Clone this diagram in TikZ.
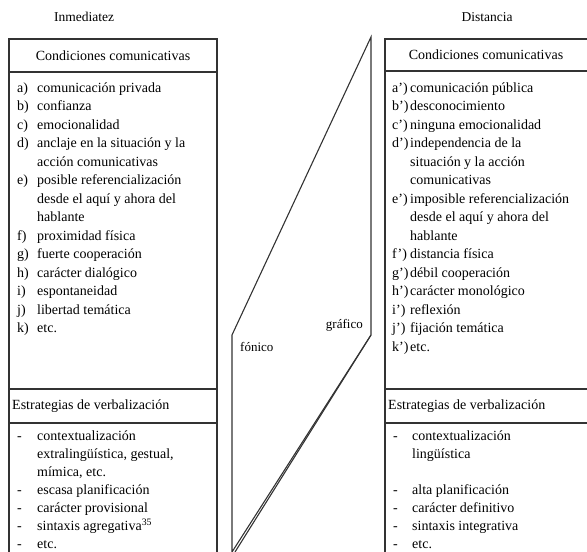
\documentclass[tikz,border=0pt]{standalone}
\usepackage{fontspec}
\setmainfont{Liberation Serif}
\usepackage{array}
\begin{document}
\begin{tikzpicture}[x=1pt,y=-1pt,
  frame/.style={draw=black!80,line width=1.1pt},
  listtext/.style={anchor=base west,inner sep=0pt,font=\fontsize{14}{18.5}\selectfont},
  strattext/.style={anchor=base west,inner sep=0pt,font=\fontsize{14}{18.1}\selectfont},
  headtext/.style={inner sep=0pt,font=\fontsize{14}{18.5}\selectfont},
  titletext/.style={inner sep=0pt,font=\fontsize{13.5}{16}\selectfont},
  smalllabel/.style={inner sep=0pt,font=\fontsize{13}{16}\selectfont}]
\useasboundingbox (0,0) rectangle (587,552);
% left frame
\draw[frame] (9,552) -- (9,39) -- (217,39) -- (217,552);
\draw[frame] (9,72) -- (217,72);
\draw[frame] (9,389) -- (217,389);
\draw[frame] (9,423) -- (217,423);
% right frame
\draw[frame] (385,552) -- (385,39) -- (587,39);
\draw[frame] (385,71) -- (587,71);
\draw[frame] (385,389) -- (587,389);
\draw[frame] (385,423) -- (587,423);
% middle shape
\draw[frame] (232,552) -- (232,335) -- (371,37) -- (371,335) -- cycle;
\draw[frame] (371,335) -- (235,552);
% titles
\node[titletext] (tL) at (84,17) {Inmediatez};
\node[titletext] (tR) at (487,17) {Distancia};
% headers
\node[headtext] (hL1) at (113,55.5) {Condiciones comunicativas};
\node[headtext] (hR1) at (486,55) {Condiciones comunicativas};
\node[headtext,anchor=west] (hL2) at (12,406) {Estrategias de verbalización};
\node[headtext,anchor=west] (hR2) at (388,406) {Estrategias de verbalización};
% labels in middle
\node[smalllabel,anchor=base east] (graf) at (363,328) {gráfico};
\node[smalllabel,anchor=base west] (fon) at (240,351) {fónico};
% left list
\node[listtext] (condL) at (17,92) {\begin{tabular}[t]{@{}p{20pt}@{}l@{}}
a) & comunicación privada\\
b) & confianza\\
c) & emocionalidad\\
d) & anclaje en la situación y la\\
   & acción comunicativas\\
e) & posible referencialización\\
   & desde el aquí y ahora del\\
   & hablante\\
f) & proximidad física\\
g) & fuerte cooperación\\
h) & carácter dialógico\\
i) & espontaneidad\\
j) & libertad temática\\
k) & etc.
\end{tabular}};
% right list
\node[listtext] (condR) at (392,92) {\begin{tabular}[t]{@{}p{18pt}@{}l@{}}
a’) & comunicación pública\\
b’) & desconocimiento\\
c’) & ninguna emocionalidad\\
d’) & independencia de la\\
    & situación y la acción\\
    & comunicativas\\
e’) & imposible referencialización\\
    & desde el aquí y ahora del\\
    & hablante\\
f’) & distancia física\\
g’) & débil cooperación\\
h’) & carácter monológico\\
i’) & reflexión\\
j’) & fijación temática\\
k’) & etc.
\end{tabular}};
% left strategies
\node[strattext] (estL) at (17,440) {\begin{tabular}[t]{@{}p{20pt}@{}l@{}}
- & contextualización\\
  & extralingüística, gestual,\\
  & mímica, etc.\\
- & escasa planificación\\
- & carácter provisional\\
- & sintaxis agregativa\textsuperscript{35}\\
- & etc.
\end{tabular}};
% right strategies
\node[strattext] (estR) at (393,440) {\begin{tabular}[t]{@{}p{19pt}@{}l@{}}
- & contextualización\\
  & lingüística\\
  & \\
- & alta planificación\\
- & carácter definitivo\\
- & sintaxis integrativa\\
- & etc.
\end{tabular}};
\end{tikzpicture}
\end{document}
